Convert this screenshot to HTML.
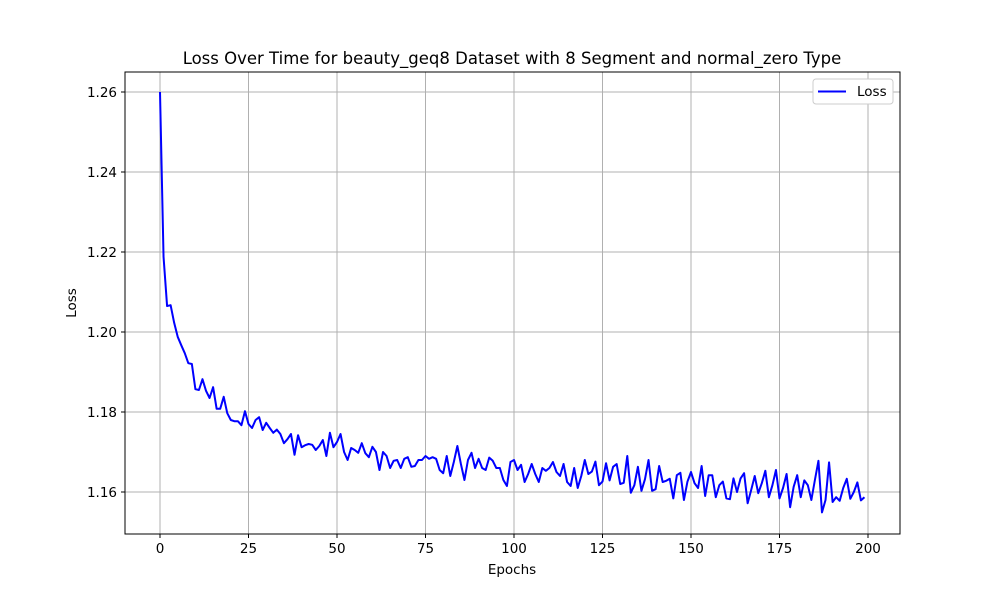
<!DOCTYPE html>
<html><head><meta charset="utf-8"><style>
body{margin:0;background:#fff;}
svg{font-family:"DejaVu Sans","Liberation Sans",sans-serif;}
</style></head><body>
<svg id="chart" width="1000" height="600" xmlns="http://www.w3.org/2000/svg">
<rect width="1000" height="600" fill="#fff"/>
<text x="512" y="64" font-size="16.5" text-anchor="middle">Loss Over Time for beauty_geq8 Dataset with 8 Segment and normal_zero Type</text>
<g id="grid"></g>
<g id="ticks"></g>
<path id="line" fill="none" stroke="#0000ff" stroke-width="2" stroke-linejoin="round"/>
<rect x="125" y="72" width="775" height="462" fill="none" stroke="#000" stroke-width="1"/>
<text x="512" y="574" font-size="13.5" text-anchor="middle">Epochs</text>
<text x="76" y="303" font-size="13.5" text-anchor="middle" transform="rotate(-90 76 303)">Loss</text>
<g>
<rect x="813" y="79" width="80" height="25" rx="3" fill="#fff" stroke="#ccc"/>
<line x1="818" y1="91.5" x2="846" y2="91.5" stroke="#0000ff" stroke-width="2"/>
<text x="857" y="96" font-size="13.5">Loss</text>
</g>
</svg>
<script>
const epochs=[];for(let i=0;i<200;i++)epochs.push(i);
const loss=[1.260,1.2188,1.2065,1.2067,1.2023,1.1988,1.1967,1.1947,1.1922,1.192,
1.1857,1.1855,1.1882,1.1853,1.1835,1.1862,1.1808,1.1808,1.1838,1.1797,
1.178,1.1777,1.1777,1.1767,1.1802,1.177,1.176,1.178,1.1787,1.1755,
1.1773,1.176,1.1748,1.1756,1.1745,1.1722,1.1732,1.1745,1.1693,1.1742,
1.1712,1.1717,1.172,1.1718,1.1705,1.1715,1.173,1.169,1.1748,1.1712,
1.1725,1.1745,1.170,1.168,1.171,1.1705,1.1698,1.1722,1.1697,1.1687,
1.1713,1.170,1.1655,1.170,1.169,1.166,1.1678,1.168,1.166,1.1683,
1.1687,1.1663,1.1665,1.168,1.168,1.169,1.1683,1.1687,1.1683,1.1655,
1.1647,1.169,1.164,1.1675,1.1715,1.167,1.163,1.168,1.1698,1.166,
1.1683,1.166,1.1655,1.1686,1.1678,1.166,1.166,1.163,1.1615,1.1675,
1.168,1.1655,1.1668,1.1625,1.1645,1.167,1.1645,1.1625,1.166,1.1653,
1.166,1.1675,1.165,1.164,1.167,1.1625,1.1615,1.166,1.161,1.164,
1.168,1.1645,1.1651,1.1676,1.1617,1.1626,1.1672,1.1629,1.1663,1.167,
1.162,1.1623,1.169,1.1598,1.1617,1.1663,1.1603,1.1632,1.168,1.1603,
1.1607,1.1665,1.1625,1.1628,1.1633,1.1584,1.1642,1.1648,1.158,1.1626,
1.165,1.1622,1.161,1.1665,1.159,1.1642,1.1642,1.1587,1.1617,1.1626,
1.1584,1.1582,1.1634,1.16,1.1634,1.1647,1.1572,1.1605,1.164,1.1597,
1.1622,1.1653,1.1587,1.1617,1.1655,1.1584,1.161,1.1645,1.1562,1.1613,
1.1642,1.1587,1.1629,1.1617,1.158,1.163,1.1678,1.1549,1.158,1.1674,
1.1575,1.1587,1.1578,1.161,1.1633,1.1583,1.16,1.1624,1.1579,1.1587];
const xTicks=[0,25,50,75,100,125,150,175,200];
const yTicks=[1.16,1.18,1.20,1.22,1.24,1.26];
const yLabels=["1.16","1.18","1.20","1.22","1.24","1.26"];
const NS="http://www.w3.org/2000/svg";
const xs=v=>160+v*(868-160)/200;
const ys=v=>92+(1.26-v)*4000;
const grid=document.getElementById('grid'),ticks=document.getElementById('ticks');
function mk(tag,attrs,parent){const e=document.createElementNS(NS,tag);for(const k in attrs)e.setAttribute(k,attrs[k]);parent.appendChild(e);return e;}
xTicks.forEach(t=>{const x=xs(t);
 const g=mk('line',{x1:x,x2:x,y1:72,y2:534,stroke:'#b0b0b0','stroke-width':1},grid);
 
 
 mk('line',{x1:x,x2:x,y1:534,y2:538,stroke:'#000'},ticks);
 const l=mk('text',{x:x,y:553,'font-size':13.5,'text-anchor':'middle'},ticks);l.textContent=t;
 
 
});
yTicks.forEach((t,i)=>{const y=ys(t);
 const g=mk('line',{x1:125,x2:900,y1:y,y2:y,stroke:'#b0b0b0','stroke-width':1},grid);
 
 
 mk('line',{x1:121,x2:125,y1:y,y2:y,stroke:'#000'},ticks);
 const l=mk('text',{x:117,y:y+5,'font-size':13.5,'text-anchor':'end'},ticks);l.textContent=yLabels[i];
 
 
});
document.getElementById('line').setAttribute('d',loss.map((v,i)=>(i?'L':'M')+xs(epochs[i]).toFixed(2)+' '+ys(v).toFixed(2)).join(' '));
</script>
</body></html>
